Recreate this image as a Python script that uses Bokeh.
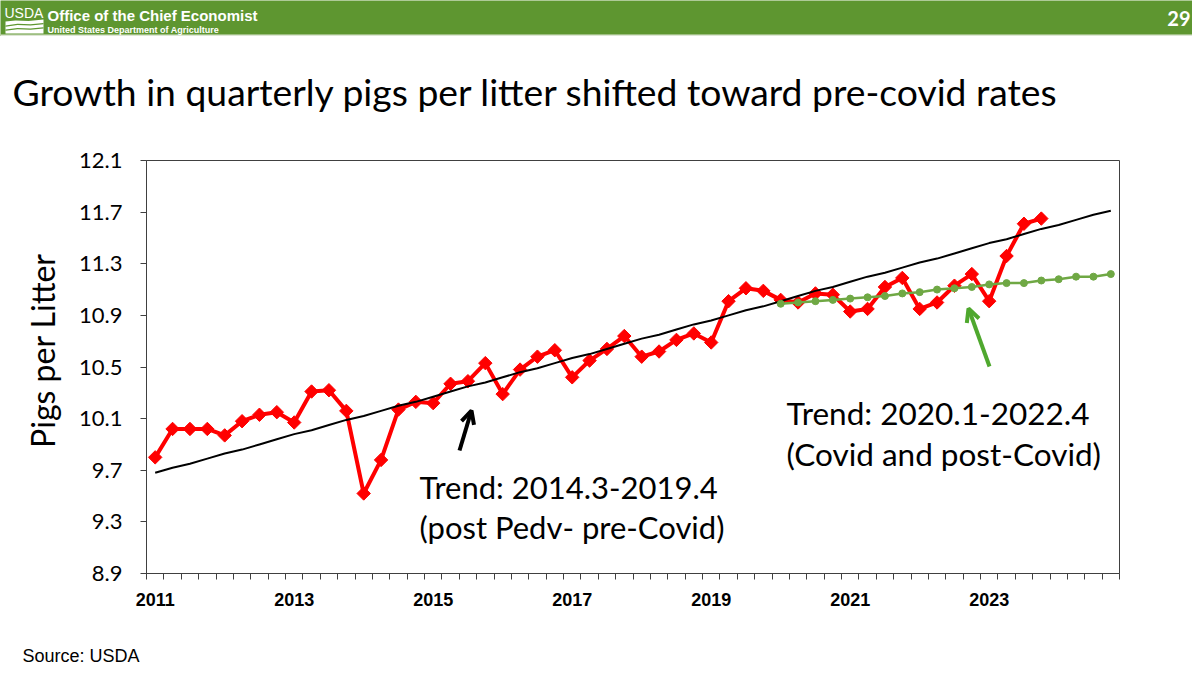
import math
from bokeh.plotting import figure
from bokeh.models import (Range1d, FixedTicker, Label, Arrow, OpenHead, PolyAnnotation,
                          BoxAnnotation, ColumnDataSource)
from bokeh.layouts import column
from bokeh.embed import file_html
from bokeh.resources import INLINE

# ---------------- data ----------------
quarters = [f"{y}.{q}" for y in range(2011, 2025) for q in range(1, 5)]  # 56 quarterly categories
year_labels = ["2011", "2013", "2015", "2017", "2019", "2021", "2023"]
y_ticks = [8.9, 9.3, 9.7, 10.1, 10.5, 10.9, 11.3, 11.7, 12.1]

# actual quarterly pigs per litter, 2011.1 - 2023.4
pigs_per_litter = [
    9.80, 10.02, 10.02, 10.02, 9.97, 10.08, 10.13, 10.15,
    10.07, 10.31, 10.32, 10.16, 9.52, 9.78, 10.17, 10.23,
    10.22, 10.37, 10.39, 10.53, 10.29, 10.48, 10.58, 10.63,
    10.42, 10.55, 10.64, 10.74, 10.58, 10.62, 10.71, 10.76,
    10.69, 11.01, 11.11, 11.09, 11.02, 11.00, 11.07, 11.06,
    10.93, 10.95, 11.12, 11.19, 10.95, 11.00, 11.13, 11.22,
    11.01, 11.36, 11.61, 11.65,
]

# trend fitted on 2014.3-2019.4, shown 2011.1 - 2024.4
trend_pre_covid = [
    9.68, 9.72, 9.75, 9.79, 9.83, 9.86, 9.90, 9.94,
    9.98, 10.01, 10.05, 10.09, 10.12, 10.16, 10.20, 10.23,
    10.27, 10.31, 10.35, 10.38, 10.42, 10.46, 10.49, 10.53,
    10.57, 10.60, 10.64, 10.68, 10.72, 10.75, 10.79, 10.83,
    10.86, 10.90, 10.94, 10.97, 11.01, 11.05, 11.09, 11.12,
    11.16, 11.20, 11.23, 11.27, 11.31, 11.34, 11.38, 11.42,
    11.46, 11.49, 11.53, 11.57, 11.60, 11.64, 11.68, 11.71,
]

# trend fitted on 2020.1-2022.4, shown 2020.1 - 2024.4
trend_covid = [
    10.99, 11.00, 11.01, 11.02, 11.03, 11.04, 11.05, 11.07,
    11.08, 11.10, 11.11, 11.12, 11.14, 11.15, 11.15, 11.17,
    11.18, 11.20, 11.20, 11.22,
]

idx = list(range(len(quarters)))
covid_start = quarters.index("2020.1")
n_act = len(pigs_per_litter)

src_actual = ColumnDataSource(dict(x=idx[:n_act], q=quarters[:n_act], y=pigs_per_litter))
src_trend1 = ColumnDataSource(dict(x=idx, q=quarters, y=trend_pre_covid))
src_trend2 = ColumnDataSource(dict(x=idx[covid_start:], q=quarters[covid_start:], y=trend_covid))

# ---------------- styles ----------------
W = 1192
GREEN_BAR = "#5e9630"
RED = "#ff0000"
TREND_GREEN = "#6fa844"
ARROW_GREEN = "#4fa82e"
AXIS_GREY = "#404040"
CAL = "Lato"
ARIAL = "Liberation Sans"
BASE_K = 0.33  # empirical baseline correction (fraction of font size)


def blank(height, bg="white"):
    f = figure(width=W, height=height, x_range=Range1d(0, W), y_range=Range1d(height, 0),
               title=None, x_axis_type=None, y_axis_type=None, output_backend="svg",
               toolbar_location=None, min_border=0, min_border_left=0, min_border_right=0,
               min_border_top=0, min_border_bottom=0, frame_align=False)
    f.grid.visible = False
    f.outline_line_color = None
    f.background_fill_color = bg
    f.border_fill_color = bg
    return f


def top_label(text, x, baseline, size, font=CAL, **kw):
    """Label in a blank strip whose y axis runs downward in pixels."""
    return Label(x=x, y=baseline - BASE_K * size, text=text, text_font=font,
                 text_font_size=f"{size}px", text_baseline="alphabetic", **kw)


# ---------------- header bar (page y 0..36) ----------------
h = blank(36, GREEN_BAR)
h.add_layout(BoxAnnotation(left=0, right=W, top=34, bottom=36, fill_color="#dde6d4", fill_alpha=1.0,
                           line_color=None))
h.add_layout(PolyAnnotation(xs=[5, 15, 28, 43, 43, 5], ys=[21, 20, 20.5, 19, 33, 33],
                            fill_color="white", fill_alpha=1.0, line_color=None))
h.add_layout(PolyAnnotation(xs=[5, 17, 30, 43, 43, 30, 17, 5], ys=[25, 23.3, 23.8, 22.5, 23.8, 25.1, 24.6, 26.3],
                            fill_color=GREEN_BAR, fill_alpha=1.0, line_color=None))
h.add_layout(PolyAnnotation(xs=[5, 17, 30, 43, 43, 30, 17, 5], ys=[29, 27.5, 28, 26.8, 28, 29.3, 28.8, 30.3],
                            fill_color=GREEN_BAR, fill_alpha=1.0, line_color=None))
h.add_layout(top_label("USDA", 4, 17.5, 14, font=ARIAL, text_color="white"))
h.add_layout(top_label("Office of the Chief Economist", 47, 19.5, 15, font=ARIAL,
                       text_font_style="bold", text_color="white"))
h.add_layout(top_label("United States Department of Agriculture", 47, 32.5, 9, font=ARIAL,
                       text_font_style="bold", text_color="white"))
h.add_layout(top_label("29", 1190, 25, 20, text_font_style="bold", text_color="white",
                       text_align="right"))

# ---------------- slide title (page y 36..120) ----------------
TOP_T = 36
t = blank(84)
t.add_layout(top_label("Growth in quarterly pigs per litter shifted toward pre-covid rates",
                       12, 103 - TOP_T, 37.3, text_color="black"))

# ---------------- main chart (page y 120..620) ----------------
TOP_M = 120
FL, FT, FW, FH = 146, 160, 973, 413
FB = FT + FH

p = figure(frame_width=FW, frame_height=FH,
           x_range=Range1d(-0.5, len(quarters) - 0.5), y_range=Range1d(y_ticks[0], y_ticks[-1]),
           title=None, output_backend="svg", toolbar_location=None, frame_align=False,
           min_border_left=FL, min_border_right=W - FL - FW, min_border_top=FT - TOP_M,
           min_border_bottom=620 - FB)
p.grid.visible = False
p.outline_line_color = AXIS_GREY
p.outline_line_width = 1

xa = p.xaxis[0]
xa.ticker = FixedTicker(ticks=[quarters.index(f"{y}.1") for y in year_labels],
                        minor_ticks=[i - 0.5 for i in range(len(quarters) + 1)])
xa.major_label_overrides = {quarters.index(f"{y}.1"): y for y in year_labels}
xa.major_tick_out = 0
xa.major_tick_in = 0
xa.minor_tick_out = 6
xa.minor_tick_in = 0
xa.minor_tick_line_color = AXIS_GREY
xa.axis_line_color = AXIS_GREY
xa.major_label_text_font = ARIAL
xa.major_label_text_font_style = "bold"
xa.major_label_text_font_size = "18px"
xa.major_label_text_color = "black"
xa.major_label_standoff = 13

ya = p.yaxis[0]
ya.ticker = FixedTicker(ticks=y_ticks, minor_ticks=[])
ya.major_label_overrides = {v: f"{v:.1f}" for v in y_ticks}
ya.major_tick_out = 6
ya.major_tick_in = 0
ya.major_tick_line_color = AXIS_GREY
ya.axis_line_color = AXIS_GREY
ya.minor_tick_line_color = None
ya.major_label_text_font = CAL
ya.major_label_text_font_size = "22px"
ya.major_label_text_color = "black"
ya.major_label_standoff = 18
ya.axis_label = "\u00a0\u00a0\u00a0\u00a0Pigs per Litter"
ya.axis_label_text_font = CAL
ya.axis_label_text_font_size = "32px"
ya.axis_label_text_font_style = "normal"
ya.axis_label_text_color = "black"
ya.axis_label_standoff = 14

p.line("x", "y", source=src_actual, line_color=RED, line_width=4)
p.scatter("x", "y", source=src_actual, marker="square", angle=math.pi / 4, size=9.5,
          fill_color=RED, line_color=RED)
p.line("x", "y", source=src_trend1, line_color="black", line_width=2)
p.line("x", "y", source=src_trend2, line_color=TREND_GREEN, line_width=2.5)
p.scatter("x", "y", source=src_trend2, marker="circle", size=7, fill_color=TREND_GREEN, line_color=TREND_GREEN)


def page_label(text, px, py, size, **kw):
    """Label positioned by page coordinates (baseline), converted to frame-relative screen units."""
    return Label(x=px - FL, y=FB - py + BASE_K * size, x_units="screen", y_units="screen", text=text,
                 text_font=CAL, text_font_size=f"{size}px", text_baseline="alphabetic",
                 text_color="black", **kw)


p.add_layout(page_label("Trend: 2014.3-2019.4", 419, 497, 31))
p.add_layout(page_label("(post Pedv- pre-Covid)", 419, 537, 31))
p.add_layout(page_label("Trend: 2020.1-2022.4", 786, 423, 31.5))
p.add_layout(page_label("(Covid and post-Covid)", 786, 464, 31.5))

p.add_layout(Arrow(x_start=459 - FL, y_start=FB - 450, x_end=471 - FL, y_end=FB - 410,
                   start_units="screen", end_units="screen", line_color="black", line_width=4,
                   end=OpenHead(size=13, line_width=4, line_color="black")))
p.add_layout(Arrow(x_start=989 - FL, y_start=FB - 366, x_end=968 - FL, y_end=FB - 308,
                   start_units="screen", end_units="screen", line_color=ARROW_GREEN, line_width=4,
                   end=OpenHead(size=13, line_width=4, line_color=ARROW_GREEN)))

# ---------------- source line (page y 620..667) ----------------
TOP_S = 620
s = blank(47)
s.add_layout(top_label("Source: USDA", 22, 661 - TOP_S, 18, font=ARIAL, text_color="black"))

layout = column(h, t, p, s, spacing=0)
open("out.html", "w").write(file_html(layout, INLINE))
